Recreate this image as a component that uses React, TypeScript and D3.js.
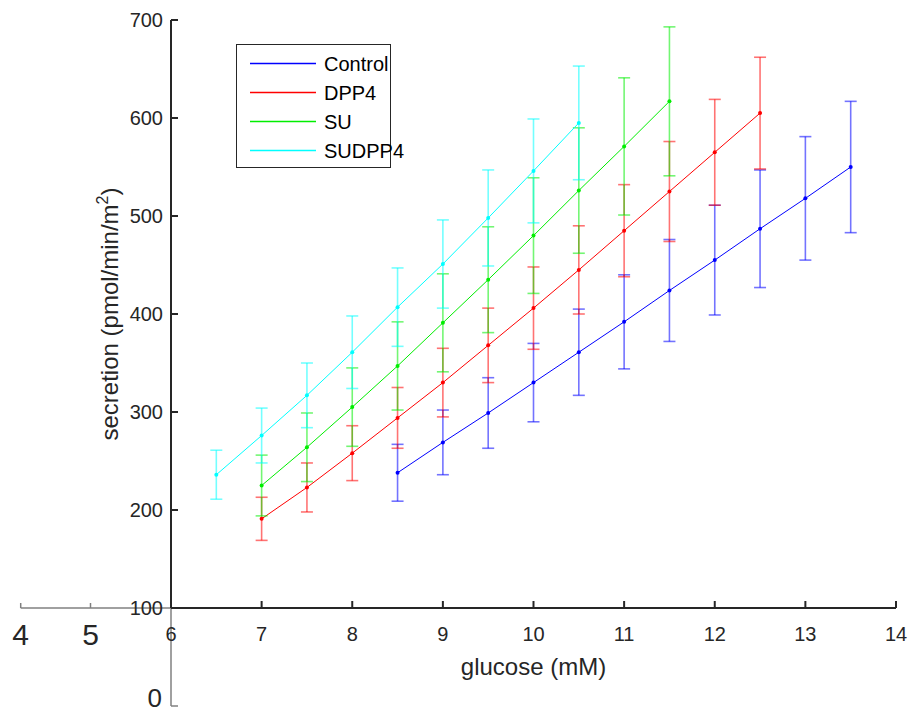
import { useEffect, useRef } from 'react';
import * as d3 from 'd3';

type Pt = { x: number; y: number; e: number };

const seriesNames = ['Control', 'DPP4', 'SU', 'SUDPP4'];
const seriesColors = ['#0000ff', '#ff0000', '#00ee00', '#00ffff'];

const controlX = [8.5, 9, 9.5, 10, 10.5, 11, 11.5, 12, 12.5, 13, 13.5];
const controlY = [238, 269, 299, 330, 361, 392, 424, 455, 487, 518, 550];
const controlErr = [29, 33, 36, 40, 44, 48, 52, 56, 60, 63, 67];

const dpp4X = [7, 7.5, 8, 8.5, 9, 9.5, 10, 10.5, 11, 11.5, 12, 12.5];
const dpp4Y = [191, 223, 258, 294, 330, 368, 406, 445, 485, 525, 565, 605];
const dpp4Err = [22, 25, 28, 31, 35, 38, 42, 45, 47, 51, 54, 57];

const suX = [7, 7.5, 8, 8.5, 9, 9.5, 10, 10.5, 11, 11.5];
const suY = [225, 264, 305, 347, 391, 435, 480, 526, 571, 617];
const suErr = [31, 35, 40, 45, 50, 54, 59, 64, 70, 76];

const sudpp4X = [6.5, 7, 7.5, 8, 8.5, 9, 9.5, 10, 10.5];
const sudpp4Y = [236, 276, 317, 361, 407, 451, 498, 546, 595];
const sudpp4Err = [25, 28, 33, 37, 40, 45, 49, 53, 58];

const xTicks = [6, 7, 8, 9, 10, 11, 12, 13, 14];
const yTicks = [100, 200, 300, 400, 500, 600, 700];
const extraXTicks = [4, 5];
const extraYTicks = [0];

const zip = (xs: number[], ys: number[], es: number[]): Pt[] =>
  xs.map((x, i) => ({ x, y: ys[i], e: es[i] }));

function App() {
  const ref = useRef<SVGSVGElement>(null);

  useEffect(() => {
    const w = 910;
    const h = 713;
    const font = '"Liberation Sans", Arial, sans-serif';
    const axisColor = '#262626';

    const svg = d3.select(ref.current).attr('width', w).attr('height', h);
    svg.selectAll('*').remove();

    const x = d3.scaleLinear().domain([6, 14]).range([171, 896]);
    const y = d3.scaleLinear().domain([100, 700]).range([608, 20]);

    // stray secondary axes (bottom-left)
    const x2 = d3.scaleLinear().domain([4, 5]).range([20.7, 90.5]);
    const y2 = d3.scaleLinear().domain([0, 1]).range([706, 608]);
    const g2 = svg.append('g').attr('stroke', '#808080').attr('stroke-width', 1.5);
    g2.append('line').attr('x1', x2(4)).attr('x2', x(6)).attr('y1', y(100)).attr('y2', y(100));
    g2.selectAll('.t2')
      .data(extraXTicks)
      .join('line')
      .attr('x1', d => x2(d))
      .attr('x2', d => x2(d))
      .attr('y1', y(100))
      .attr('y2', y(100) - 5);
    g2.append('line').attr('x1', x(6)).attr('x2', x(6)).attr('y1', y2(0)).attr('y2', y(100));
    g2.selectAll('.ty2')
      .data(extraYTicks)
      .join('line')
      .attr('x1', x(6))
      .attr('x2', x(6) + 7)
      .attr('y1', d => y2(d))
      .attr('y2', d => y2(d));
    svg.selectAll('.l2')
      .data(extraXTicks)
      .join('text')
      .attr('x', d => x2(d))
      .attr('y', 645)
      .attr('text-anchor', 'middle')
      .attr('font-family', font)
      .attr('font-size', 30)
      .attr('fill', axisColor)
      .text(d => d);
    svg.selectAll('.ly2')
      .data(extraYTicks)
      .join('text')
      .attr('x', 162)
      .attr('y', d => y2(d) + 1)
      .attr('text-anchor', 'end')
      .attr('font-family', font)
      .attr('font-size', 26)
      .attr('fill', axisColor)
      .text(d => d);

    // main axes
    const ax = svg.append('g').attr('stroke', axisColor).attr('stroke-width', 2);
    ax.append('line').attr('x1', x(6)).attr('x2', x(14)).attr('y1', y(100)).attr('y2', y(100));
    ax.append('line').attr('x1', x(6)).attr('x2', x(6)).attr('y1', y(100)).attr('y2', y(700));
    ax.selectAll('.xt')
      .data(xTicks)
      .join('line')
      .attr('x1', d => x(d))
      .attr('x2', d => x(d))
      .attr('y1', y(100))
      .attr('y2', y(100) - 7);
    ax.selectAll('.yt')
      .data(yTicks)
      .join('line')
      .attr('x1', x(6))
      .attr('x2', x(6) + 7)
      .attr('y1', d => y(d))
      .attr('y2', d => y(d));

    svg.selectAll('.xl')
      .data(xTicks)
      .join('text')
      .attr('x', d => x(d))
      .attr('y', 641)
      .attr('text-anchor', 'middle')
      .attr('font-family', font)
      .attr('font-size', 20)
      .attr('fill', axisColor)
      .text(d => d);
    svg.selectAll('.yl')
      .data(yTicks)
      .join('text')
      .attr('x', 163)
      .attr('y', d => y(d) + 7)
      .attr('text-anchor', 'end')
      .attr('font-family', font)
      .attr('font-size', 20)
      .attr('fill', axisColor)
      .text(d => d);

    svg.append('text')
      .attr('x', (x(6) + x(14)) / 2)
      .attr('y', 675)
      .attr('text-anchor', 'middle')
      .attr('font-family', font)
      .attr('font-size', 24)
      .attr('fill', axisColor)
      .text('glucose (mM)');

    const yl = svg.append('text')
      .attr('transform', `translate(118,${(y(100) + y(700)) / 2}) rotate(-90)`)
      .attr('text-anchor', 'middle')
      .attr('font-family', font)
      .attr('font-size', 24)
      .attr('fill', axisColor);
    yl.append('tspan').text('secretion (pmol/min/m');
    yl.append('tspan').attr('font-size', 16).attr('dy', -10).text('2');
    yl.append('tspan').attr('dy', 10).text(')');

    // series
    const allSeries = [
      zip(controlX, controlY, controlErr),
      zip(dpp4X, dpp4Y, dpp4Err),
      zip(suX, suY, suErr),
      zip(sudpp4X, sudpp4Y, sudpp4Err),
    ];
    const line = d3.line<Pt>().x(d => x(d.x)).y(d => y(d.y));
    const cap = 6;

    allSeries.forEach((pts, i) => {
      const c = seriesColors[i];
      const g = svg.append('g');
      const eb = g.append('g').attr('stroke', c).attr('stroke-width', 1.6).attr('stroke-opacity', 0.55);
      eb.selectAll('.v')
        .data(pts)
        .join('line')
        .attr('x1', d => x(d.x))
        .attr('x2', d => x(d.x))
        .attr('y1', d => y(d.y - d.e))
        .attr('y2', d => y(d.y + d.e));
      eb.selectAll('.top')
        .data(pts)
        .join('line')
        .attr('x1', d => x(d.x) - cap)
        .attr('x2', d => x(d.x) + cap)
        .attr('y1', d => y(d.y + d.e))
        .attr('y2', d => y(d.y + d.e));
      eb.selectAll('.bot')
        .data(pts)
        .join('line')
        .attr('x1', d => x(d.x) - cap)
        .attr('x2', d => x(d.x) + cap)
        .attr('y1', d => y(d.y - d.e))
        .attr('y2', d => y(d.y - d.e));
      g.append('path')
        .attr('d', line(pts))
        .attr('fill', 'none')
        .attr('stroke', c)
        .attr('stroke-width', 1);
      g.selectAll('circle')
        .data(pts)
        .join('circle')
        .attr('cx', d => x(d.x))
        .attr('cy', d => y(d.y))
        .attr('r', 2)
        .attr('fill', c);
    });

    // legend
    const lg = svg.append('g');
    lg.append('rect')
      .attr('x', 236.5)
      .attr('y', 44.5)
      .attr('width', 154)
      .attr('height', 123)
      .attr('fill', '#fff')
      .attr('stroke', '#262626')
      .attr('stroke-width', 1);
    seriesNames.forEach((name, i) => {
      const ry = 63.5 + i * 29;
      lg.append('line')
        .attr('x1', 250)
        .attr('x2', 316)
        .attr('y1', ry)
        .attr('y2', ry)
        .attr('stroke', seriesColors[i])
        .attr('stroke-width', 1.3);
      lg.append('text')
        .attr('x', 324)
        .attr('y', ry + 7)
        .attr('font-family', font)
        .attr('font-size', 20)
        .attr('fill', '#000')
        .text(name);
    });

    return () => {
      svg.selectAll('*').remove();
    };
  }, []);

  return (
    <svg
      ref={ref}
      style={{ position: 'absolute', left: 0, top: 0, display: 'block', background: '#fff' }}
      role="img"
      aria-label="secretion vs glucose"
    />
  );
}

export default App;
